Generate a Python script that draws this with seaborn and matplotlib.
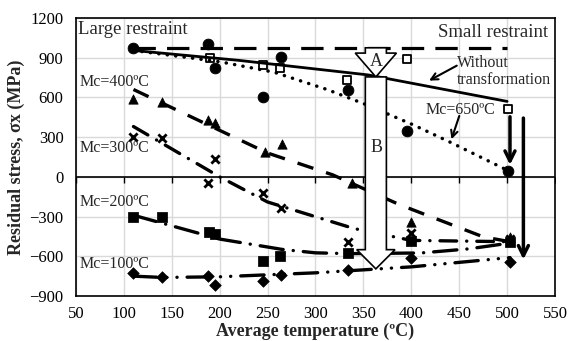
"""Residual stress vs average temperature, several Mc curves

"""

import seaborn as sns
import matplotlib.pyplot as plt
from matplotlib.patches import FancyArrow

# measured points
circ_t = [110, 188, 195, 245, 264, 334, 396, 501]
circ_s = [974, 1004, 823, 605, 907, 657, 347, 45]
osq_t = [190, 245, 263, 333, 396, 501]
osq_s = [898, 846, 823, 733, 891, 513]
tri_t = [110, 140, 188, 195, 247, 265, 338, 400, 503]
tri_s = [589, 567, 430, 408, 190, 250, -45, -340, -458]
xm_t = [110, 140, 188, 195, 245, 264, 334, 400, 503]
xm_s = [302, 294, -45, 136, -121, -234, -491, -423, -470]
fsq_t = [110, 140, 189, 195, 245, 263, 334, 400, 503]
fsq_s = [-302, -302, -415, -430, -634, -597, -574, -483, -495]
dia_t = [110, 140, 188, 195, 245, 264, 334, 400, 503]
dia_s = [-725, -755, -748, -816, -785, -740, -700, -612, -642]

# calculated curves
large_t = [110, 500]
large_s = [972, 972]
notr_t = [110, 220, 355, 500]
notr_s = [955, 880, 770, 570]
mc650_t = [110, 200, 257, 312, 351, 402, 442, 503]
mc650_s = [955, 870, 790, 660, 551, 393, 257, 40]
mc400_t = [110, 177, 250, 318, 388, 475, 503]
mc400_s = [660, 430, 180, 15, -211, -453, -490]
mc300_t = [110, 200, 250, 340, 400, 503]
mc300_s = [380, 0, -190, -390, -480, -490]
mc200_t = [110, 200, 265, 300, 335, 410, 460, 503]
mc200_s = [-290, -470, -548, -574, -580, -575, -544, -500]
mc100_t = [110, 140, 200, 300, 400, 503]
mc100_s = [-750, -760, -755, -725, -680, -610]

x_ticks = list(range(50, 551, 50))
y_ticks = list(range(-900, 1201, 300))

sns.set_theme(style="whitegrid")
plt.rcParams["font.family"] = ["Liberation Serif", "DejaVu Serif"]

fig = plt.figure(figsize=(5.7, 3.41), dpi=100)
ax = fig.add_axes([0.1333, 0.132, 0.8404, 0.8152])

k = dict(color="black", ax=ax, legend=False, zorder=4)
sns.lineplot(x=large_t, y=large_s, lw=2.3, linestyle=(0, (7, 3.5)), **k)
sns.lineplot(x=notr_t, y=notr_s, lw=2.0, **k)
sns.lineplot(x=mc650_t, y=mc650_s, lw=2.5, linestyle=(0, (0.05, 2.4)),
             dash_capstyle="round", **k)
sns.lineplot(x=mc400_t, y=mc400_s, lw=2.4, linestyle=(0, (5, 4)), **k)
sns.lineplot(x=mc300_t, y=mc300_s, lw=2.4, linestyle=(0, (5, 3, 0.05, 3)),
             dash_capstyle="round", **k)
sns.lineplot(x=mc200_t, y=mc200_s, lw=2.4, linestyle=(0, (7, 3, 0.05, 3)),
             dash_capstyle="round", **k)
sns.lineplot(x=mc100_t, y=mc100_s, lw=2.4,
             linestyle=(0, (7, 3, 0.05, 3, 0.05, 3)), dash_capstyle="round", **k)

m = dict(ax=ax, legend=False, zorder=3)
sns.scatterplot(x=circ_t, y=circ_s, marker="o", s=60, color="black", edgecolor="black", **m)
sns.scatterplot(x=osq_t, y=osq_s, marker="s", s=40, color="white", edgecolor="black",
                linewidth=1.3, **m)
sns.scatterplot(x=tri_t, y=tri_s, marker="^", s=45, color="black", edgecolor="black", **m)
sns.scatterplot(x=xm_t, y=xm_s, marker="x", s=35, color="black", linewidth=2, **m)
sns.scatterplot(x=fsq_t, y=fsq_s, marker="s", s=45, color="black", edgecolor="black", **m)
sns.scatterplot(x=dia_t, y=dia_s, marker="D", s=35, color="black", edgecolor="black", **m)

# zero axis with its tick marks
ax.axhline(0, color="black", lw=1.2, zorder=2)
ax.plot(x_ticks, [0] * len(x_ticks), ls="none", marker=3, ms=4, mew=1, color="black")

# hollow arrows A and B
ax.add_patch(FancyArrow(363, 975, 0, -220, width=22, head_width=43, head_length=180,
                        length_includes_head=True, fc="white", ec="black", lw=1.2, zorder=6))
ax.add_patch(FancyArrow(363, 755, 0, -1450, width=22, head_width=40, head_length=145,
                        length_includes_head=True, fc="white", ec="black", lw=1.2, zorder=6))
ax.text(363, 870, "A", ha="center", va="center", fontsize=13, zorder=7)
ax.text(364, 219, "B", ha="center", va="center", fontsize=13, zorder=7)

# black arrows at the right
ax.annotate("", xy=(503, 70), xytext=(503, 475),
            arrowprops=dict(arrowstyle="->,head_length=0.6,head_width=0.3", lw=2.5,
                            color="black"), zorder=5)
ax.annotate("", xy=(517, -645), xytext=(517, 465),
            arrowprops=dict(arrowstyle="->,head_length=0.6,head_width=0.3", lw=2.5,
                            color="black"), zorder=5)

ax.text(52, 1110, "Large restraint", ha="left", va="center", fontsize=13.5)
ax.text(543, 1088, "Small restraint", ha="right", va="center", fontsize=13.5)
ax.text(54, 717, "Mc=400ºC", ha="left", va="center", fontsize=11.5)
ax.text(54, 219, "Mc=300ºC", ha="left", va="center", fontsize=11.5)
ax.text(54, -189, "Mc=200ºC", ha="left", va="center", fontsize=11.5)
ax.text(54, -657, "Mc=100ºC", ha="left", va="center", fontsize=11.5)
ax.text(448, 793, "Without\ntransformation", ha="left", va="center", fontsize=11.5,
        linespacing=1.1)
ax.text(451, 506, "Mc=650ºC", ha="center", va="center", fontsize=11.5)
ax.annotate("", xy=(416, 717), xytext=(450, 850),
            arrowprops=dict(arrowstyle="->", lw=1.5, color="black"))
ax.annotate("", xy=(441, 264), xytext=(451, 480),
            arrowprops=dict(arrowstyle="->", lw=1.5, color="black"))

ax.set_xlim(50, 550)
ax.set_ylim(-900, 1200)
ax.set_xticks(x_ticks)
ax.set_yticks(y_ticks)
ax.tick_params(length=0, labelsize=12, labelcolor="black")
ax.tick_params(axis="x", pad=7)
ax.tick_params(axis="y", pad=9)
ax.grid(True, color="#d9d9d9", lw=1)
for sp in ax.spines.values():
    sp.set_color("black")
    sp.set_linewidth(1.2)
ax.set_xlabel("Average temperature (ºC)", fontsize=13, fontweight="bold",
              labelpad=1)
ax.set_ylabel("Residual stress, σx (MPa)", fontsize=13, fontweight="bold",
              labelpad=3)

fig.savefig("out.png", dpi=100)
